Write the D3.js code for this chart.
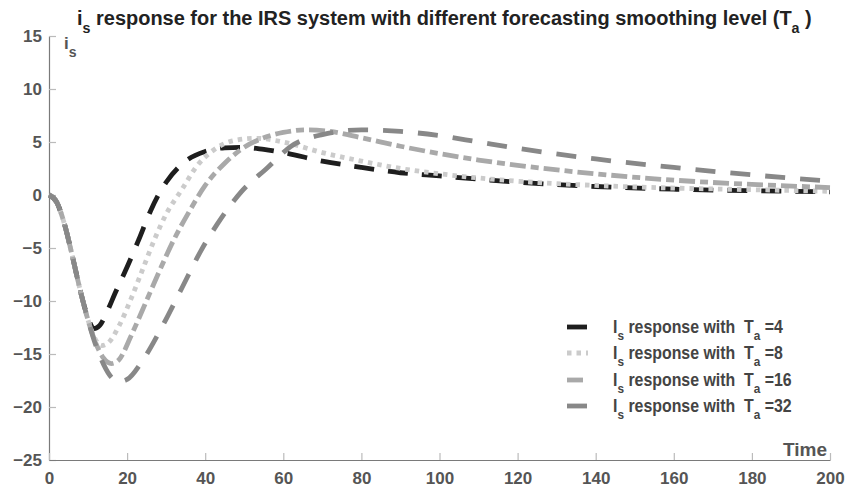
<!DOCTYPE html>
<html>
<head>
<meta charset="utf-8">
<script src="https://cdn.jsdelivr.net/npm/d3@7"></script>
<style>
  html, body { margin: 0; padding: 0; background: #fff; }
  svg { display: block; font-family: "Liberation Sans", Arial, sans-serif; }
  text { white-space: pre; }
</style>
</head>
<body>
<svg id="chart" width="846" height="490"></svg>
<script>
// ---------- DATA ----------
const seriesNames = ["Ta4", "Ta8", "Ta16", "Ta32"];
const legendValues = ["4", "8", "16", "32"];

const tTa4 = [0, 2, 4, 6, 8, 10, 11.5, 13, 15, 17, 20, 23, 26, 28, 30, 35, 40, 45, 50, 55, 60, 70, 80, 90, 100, 120, 140, 160, 180, 200];
const vTa4 = [0, -0.7, -2.8, -5.8, -9.0, -11.6, -12.6, -12.3, -10.9, -9.2, -6.8, -4.2, -1.5, 0.0, 1.2, 3.2, 4.1, 4.45, 4.5, 4.3, 4.0, 3.2, 2.6, 2.1, 1.8, 1.2, 0.8, 0.55, 0.4, 0.3];

const tTa8 = [0, 2, 4, 6, 8, 10, 12, 13.5, 15, 18, 21, 24, 27, 30, 34, 38, 42, 47, 53, 60, 70, 80, 90, 100, 120, 140, 160, 180, 200];
const vTa8 = [0, -0.7, -2.8, -5.8, -9.0, -11.8, -13.7, -14.2, -14.0, -12.3, -9.8, -7.0, -4.2, -1.8, 0.5, 2.8, 4.2, 5.1, 5.35, 5.0, 4.0, 3.2, 2.5, 2.0, 1.3, 0.9, 0.65, 0.5, 0.35];

const tTa16 = [0, 2, 4, 6, 8, 10, 12, 14, 16, 18, 21, 24, 28, 32, 36, 40, 45, 50, 55, 60, 66, 72, 80, 90, 100, 110, 120, 140, 160, 180, 200];
const vTa16 = [0, -0.7, -2.8, -5.8, -9.0, -11.8, -14.0, -15.4, -15.9, -15.5, -13.3, -10.8, -7.4, -4.2, -1.5, 0.9, 3.0, 4.5, 5.4, 5.9, 6.15, 6.0, 5.4, 4.6, 3.9, 3.3, 2.8, 2.0, 1.4, 1.0, 0.7];

const tTa32 = [0, 2, 4, 6, 8, 10, 12, 14, 16, 18, 20, 24, 29, 34, 39, 43, 49, 56, 62, 70, 80, 90, 100, 110, 120, 140, 160, 180, 200];
const vTa32 = [0, -0.7, -2.8, -5.8, -9.0, -11.8, -14.2, -16.0, -17.2, -17.6, -17.4, -15.6, -12.4, -8.8, -5.2, -2.8, 0.2, 2.6, 4.6, 5.7, 6.15, 6.0, 5.6, 5.0, 4.4, 3.4, 2.6, 1.9, 1.3];

const xTicks = [0, 20, 40, 60, 80, 100, 120, 140, 160, 180, 200];
const yTicks = [-25, -20, -15, -10, -5, 0, 5, 10, 15];

// ---------- STYLE ----------
const styles = [
  { color: "#1e1e1e", dash: "20,14" },
  { color: "#cbcbcb", dash: "4.5,5" },
  { color: "#a9a9a9", dash: "16,5,8,5" },
  { color: "#888888", dash: "20,15" }
];
const times = [tTa4, tTa8, tTa16, tTa32];
const vals = [vTa4, vTa8, vTa16, vTa32];

const svg = d3.select("#chart");
const x = d3.scaleLinear().domain([0, 200]).range([49, 830]);
const y = d3.scaleLinear().domain([-25, 15]).range([460, 36]);

// helper: horizontally fit a text element to [left,right]
function fitX(sel, left, right) {
  const bb = sel.node().getBBox();
  const k = (right - left) / bb.width;
  sel.attr("transform", `translate(${left},0) scale(${k},1) translate(${-bb.x},0)`);
  return k;
}

// ---------- AXES ----------
const yAxis = d3.axisLeft(y).tickValues(yTicks).tickSizeInner(-7).tickSizeOuter(0).tickPadding(7);
const gy = svg.append("g").attr("transform", `translate(${x(0)},0)`).call(yAxis);
gy.select(".domain").attr("stroke", "#7a7a7a").attr("stroke-width", 1.2);
gy.selectAll(".tick line").attr("stroke", "#bbb").attr("stroke-width", 1.2);
gy.selectAll(".tick text").attr("font-size", 17).attr("font-weight", "bold").attr("fill", "#555")
  .attr("font-family", "'Liberation Sans', Arial, sans-serif");

const xAxis = d3.axisBottom(x).tickValues(xTicks).tickSizeInner(-7).tickSizeOuter(0).tickPadding(8);
const gx = svg.append("g").attr("transform", `translate(0,${y(-25)})`).call(xAxis);
gx.select(".domain").attr("stroke", "#7a7a7a").attr("stroke-width", 1.2);
gx.selectAll(".tick line").attr("stroke", "#bbb").attr("stroke-width", 1.2);
gx.selectAll(".tick text").attr("font-size", 17).attr("font-weight", "bold").attr("fill", "#555")
  .attr("font-family", "'Liberation Sans', Arial, sans-serif").attr("y", 12);

// ---------- LINES ----------
const line = d3.line().x(d => x(d[0])).y(d => y(d[1])).curve(d3.curveMonotoneX);
const gl = svg.append("g");
seriesNames.forEach((name, i) => {
  const data = times[i].map((t, j) => [t, vals[i][j]]);
  gl.append("path")
    .datum(data)
    .attr("d", line)
    .attr("fill", "none")
    .attr("stroke", styles[i].color)
    .attr("stroke-width", 4.8)
    .attr("stroke-dasharray", styles[i].dash)
    .attr("stroke-linecap", "butt");
});

// ---------- TITLE ----------
const title = svg.append("text").attr("y", 25).attr("font-size", 21).attr("font-weight", "bold").attr("fill", "#222");
title.append("tspan").text("i");
title.append("tspan").attr("font-size", 15).attr("dy", 8).text("s");
title.append("tspan").attr("dy", -8).text(" response for the IRS system with different forecasting smoothing level (T");
title.append("tspan").attr("font-size", 15).attr("dy", 8).text("a");
title.append("tspan").attr("dy", -8).text(" )");
fitX(title, 77, 812);

// y label
const ylab = svg.append("text").attr("y", 49).attr("x", 64).attr("font-size", 17).attr("font-weight", "bold").attr("fill", "#555");
ylab.append("tspan").text("i");
ylab.append("tspan").attr("font-size", 14).attr("dy", 8).text("s");

// x label
svg.append("text").attr("x", 827).attr("y", 456).attr("text-anchor", "end")
  .attr("font-size", 19).attr("font-weight", "bold").attr("fill", "#555").text("Time");

// ---------- LEGEND ----------
const legY = [327, 353, 380, 406];
const lg = svg.append("g");
const legTexts = [];
seriesNames.forEach((name, i) => {
  lg.append("line").attr("x1", 567).attr("x2", 588).attr("y1", legY[i]).attr("y2", legY[i])
    .attr("stroke", styles[i].color).attr("stroke-width", 4.8).attr("stroke-dasharray", styles[i].dash);
  const t = lg.append("text").attr("y", legY[i] + 6).attr("font-size", 17.5).attr("font-weight", "bold").attr("fill", "#444");
  t.append("tspan").text("I");
  t.append("tspan").attr("font-size", 13).attr("dy", 7).text("s");
  t.append("tspan").attr("dy", -7).text(" response with  T");
  t.append("tspan").attr("font-size", 13).attr("dy", 7).text("a");
  t.append("tspan").attr("dy", -7).text(" =" + legendValues[i]);
  legTexts.push(t);
});
// scale computed from longest entry
const kL = fitX(legTexts[3], 613, 792);
legTexts.forEach((t, i) => {
  if (i === 3) return;
  const bb = t.node().getBBox();
  t.attr("transform", `translate(613,0) scale(${kL},1) translate(${-bb.x},0)`);
});
</script>
</body>
</html>
